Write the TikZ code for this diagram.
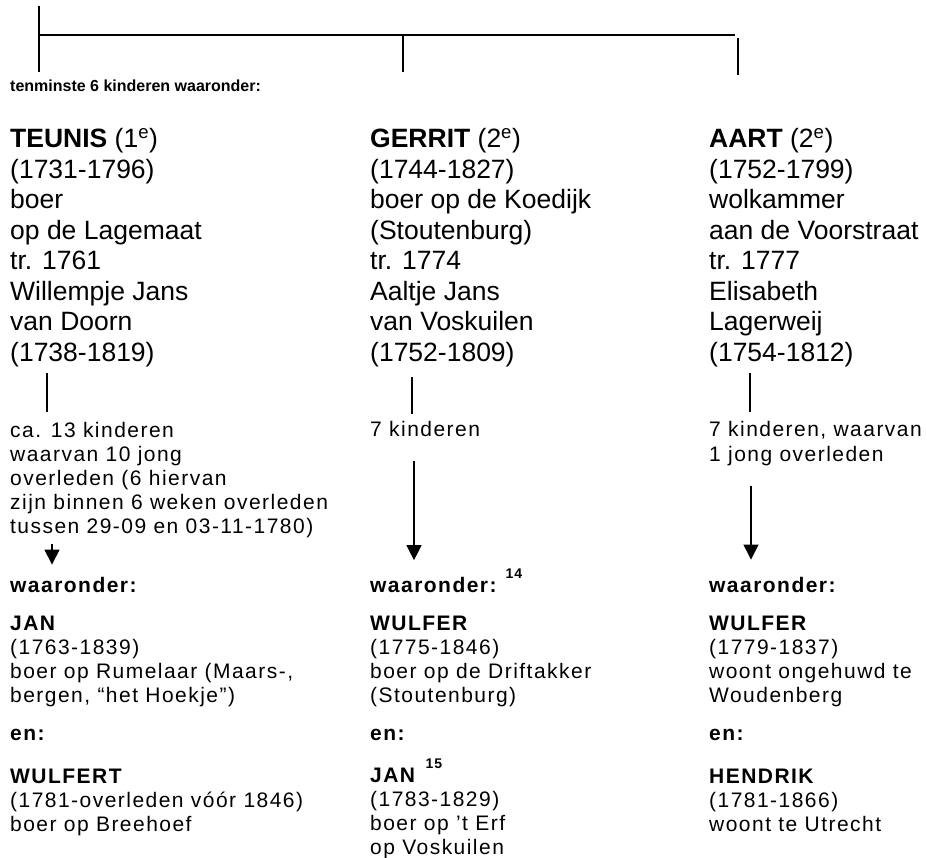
\documentclass[tikz,border=0pt]{standalone}
\usepackage{fontspec}
\setmainfont{Liberation Sans}
\newfontfamily\spaced[LetterSpace=7]{Liberation Sans}
\usetikzlibrary{arrows.meta}

\tikzset{
  big/.style={anchor=base west, inner sep=0pt, align=left,
    font=\fontsize{26.5}{30.5}\selectfont},
  small/.style={anchor=base west, inner sep=0pt, align=left,
    font=\spaced\fontsize{21}{24.2}\selectfont},
  line/.style={line width=1.2pt},
  arr/.style={line width=1.2pt, -{Triangle[width=15pt,length=15pt]}}
}
\newcommand{\noot}[1]{\hspace{9pt}\raisebox{14pt}{\fontsize{14}{14}\selectfont\bfseries #1}}

\begin{document}
\begin{tikzpicture}[x=1pt,y=-1pt]
        \useasboundingbox (0,0) rectangle (927,858);
        % bracket over the three brothers
        \draw[line] (39,6) -- (39,72);
        \draw[line] (39,35) -- (735,35);
        \draw[line] (403,35) -- (403,72);
        \draw[line] (738,38) -- (738,75);
        \node[anchor=base west, inner sep=0pt, font=\fontsize{16}{18}\selectfont\bfseries]
            (head) at (10,92) {tenminste 6 kinderen waaronder:};

        % generation 1 (nodes sit on the baseline of their last line)
        \node[big] (teunis) at (10,361.5) {\textbf{TEUNIS} (1\textsuperscript{e})\\(1731-1796)\\boer\\op de Lagemaat\\tr. 1761\\Willempje Jans\\van Doorn\\(1738-1819)};
        \node[big] (gerrit) at (370,361.5) {\textbf{GERRIT} (2\textsuperscript{e})\\(1744-1827)\\boer op de Koedijk\\(Stoutenburg)\\tr. 1774\\Aaltje Jans\\van Voskuilen\\(1752-1809)};
        \node[big] (aart) at (709,361.5) {\textbf{AART} (2\textsuperscript{e})\\(1752-1799)\\wolkammer\\aan de Voorstraat\\tr. 1777\\Elisabeth\\Lagerweij\\(1754-1812)};

        % children
        \node[small] (kidsT) at (10,533.8) {ca. 13 kinderen\\waarvan 10 jong\\overleden (6 hiervan\\zijn binnen 6 weken overleden\\tussen 29-09 en 03-11-1780)};
        \node[small] (kidsG) at (370,437) {7 kinderen};
        \node[small] (kidsA) at (709,461.2) {7 kinderen, waarvan\\1 jong overleden};

        \draw[line] ([xshift=37pt,yshift=-6pt]teunis.south west) -- ([xshift=37pt,yshift=10pt]kidsT.north west);
        \draw[line] ([xshift=42pt,yshift=-10pt]gerrit.south west) -- ([xshift=42pt,yshift=8pt]kidsG.north west);
        \draw[line] ([xshift=41pt,yshift=-6pt]aart.south west) -- ([xshift=41pt,yshift=10pt]kidsA.north west);

        \node[small] (selT) at (10,592) {\bfseries waaronder:};
        \node[small] (selG) at (370,592) {\bfseries waaronder:\noot{14}};
        \node[small] (selA) at (709,592) {\bfseries waaronder:};

        \draw[arr] ([xshift=42pt,yshift=-6pt]kidsT.south west) -- ([xshift=42pt,yshift=12pt]selT.north west);
        \draw[arr] ([xshift=44pt,yshift=-24pt]kidsG.south west) -- ([xshift=44pt,yshift=8pt]selG.north west);
        \draw[arr] ([xshift=42pt,yshift=-20pt]kidsA.south west) -- ([xshift=42pt,yshift=17pt]selA.north west);

        % generation 2
        \node[small] (janT) at (10,702.6) {\textbf{JAN}\\(1763-1839)\\boer op Rumelaar (Maars-,\\bergen, “het Hoekje”)};
        \node[small] (wulferG) at (370,702.6) {\textbf{WULFER}\\(1775-1846)\\boer op de Driftakker\\(Stoutenburg)};
        \node[small] (wulferA) at (709,702.6) {\textbf{WULFER}\\(1779-1837)\\woont ongehuwd te\\Woudenberg};

        \foreach \x/\n in {10/enT,370/enG,709/enA} {
            \node[small] (\n) at (\x,740) {\bfseries en:};
        }

        \node[small] (wulfertT) at (10,831.4) {\textbf{WULFERT}\\(1781-overleden vóór 1846)\\boer op Breehoef};
        \node[small] (janG) at (370,854.6) {\textbf{JAN}\noot{15}\\(1783-1829)\\boer op ’t Erf\\op Voskuilen};
        \node[small] (hendrikA) at (709,831.4) {\textbf{HENDRIK}\\(1781-1866)\\woont te Utrecht};
\end{tikzpicture}
\end{document}
